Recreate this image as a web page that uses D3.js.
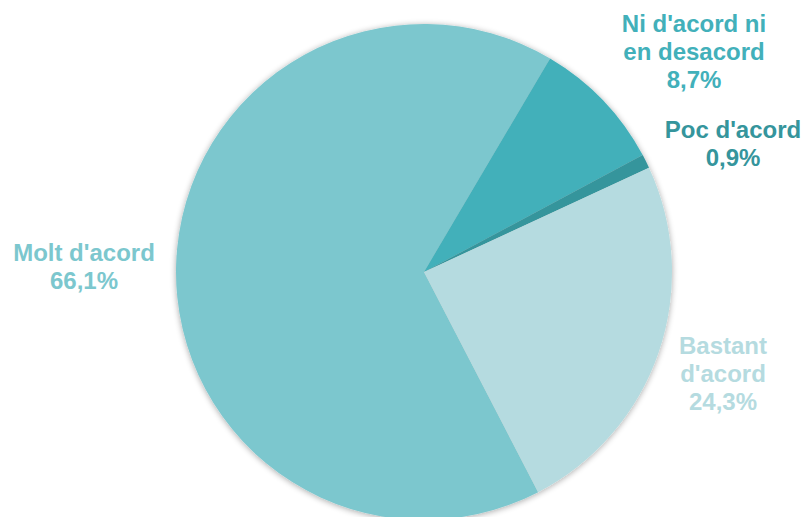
<!DOCTYPE html>
<html>
<head>
<meta charset="utf-8">
<script src="https://cdn.jsdelivr.net/npm/d3@7"></script>
<style>
  body { margin: 0; background: #fff; }
  svg { display: block; }
  text { font-family: "Liberation Sans", Arial, sans-serif; font-weight: bold; font-size: 24px; }
</style>
</head>
<body>
<div id="chart"></div>
<script>
const categories = ["Molt d'acord", "Ni d'acord ni en desacord", "Poc d'acord", "Bastant d'acord"];
const values = [66.1, 8.7, 0.9, 24.3];
const valueLabels = ["66,1%", "8,7%", "0,9%", "24,3%"];
const labelLines = [["Molt d'acord"], ["Ni d'acord ni", "en desacord"], ["Poc d'acord"], ["Bastant", "d'acord"]];
const colors = ["#7cc7ce", "#42b0ba", "#35959c", "#b5dbe0"];

const width = 806, height = 517;
const cx = 424, cy = 272, radius = 248;

// label anchor points (center x, first baseline y)
const labelPos = [[84, 261], [694, 32], [733, 138], [723, 354]];
const lineHeight = 28;

const svg = d3.select("#chart").append("svg")
  .attr("width", width)
  .attr("height", height);

const defs = svg.append("defs");
const shadow = defs.append("filter")
  .attr("id", "shadow")
  .attr("x", "-10%").attr("y", "-10%")
  .attr("width", "120%").attr("height", "120%");
shadow.append("feGaussianBlur").attr("in", "SourceAlpha").attr("stdDeviation", 3);
shadow.append("feOffset").attr("dx", 0).attr("dy", 1).attr("result", "blur");
shadow.append("feComponentTransfer").append("feFuncA").attr("type", "linear").attr("slope", 0.35);
const merge = shadow.append("feMerge");
merge.append("feMergeNode");
merge.append("feMergeNode").attr("in", "SourceGraphic");

const startAngle = 152.6 * Math.PI / 180;
const pie = d3.pie()
  .sort(null)
  .value((d) => d)
  .startAngle(startAngle)
  .endAngle(startAngle + 2 * Math.PI);

const arc = d3.arc().innerRadius(0).outerRadius(radius);

const g = svg.append("g")
  .attr("transform", `translate(${cx},${cy})`)
  .attr("filter", "url(#shadow)");

g.selectAll("path")
  .data(pie(values))
  .join("path")
  .attr("d", arc)
  .attr("fill", (d, i) => colors[i]);

const labels = svg.append("g");
categories.forEach((c, i) => {
  const lines = labelLines[i].concat([valueLabels[i]]);
  const t = labels.append("text")
    .attr("text-anchor", "middle")
    .attr("fill", colors[i]);
  lines.forEach((ln, j) => {
    t.append("tspan")
      .attr("x", labelPos[i][0])
      .attr("y", labelPos[i][1] + j * lineHeight)
      .text(ln);
  });
});
</script>
</body>
</html>
